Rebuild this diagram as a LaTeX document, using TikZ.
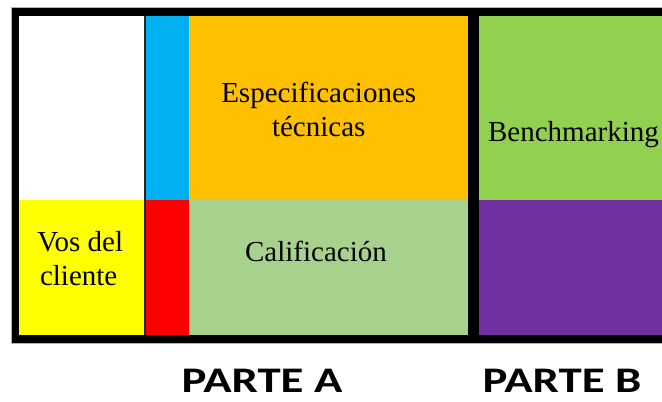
\documentclass[tikz,border=0pt]{standalone}
\usepackage{fontspec}
\setmainfont{Liberation Serif}
\newfontfamily\partfont{Carlito}
\definecolor{cblue}{HTML}{00B0F0}
\definecolor{corange}{HTML}{FFC000}
\definecolor{cgreen}{HTML}{92D050}
\definecolor{cyellow}{HTML}{FFFF00}
\definecolor{cred}{HTML}{FF0000}
\definecolor{clgreen}{HTML}{A9D18E}
\definecolor{cpurple}{HTML}{7030A0}
\begin{document}
\begin{tikzpicture}[x=1pt,y=-1pt,
  txt/.style={font=\fontsize{29}{34}\selectfont, inner sep=0pt, anchor=base},
  part/.style={font=\partfont\bfseries\fontsize{36}{40}\selectfont, inner sep=0pt, anchor=base}]
\useasboundingbox (0,0) rectangle (662,402);
\clip (0,0) rectangle (662,402);
\fill[white] (0,0) rectangle (662,402);
% frame
\draw[fill=black, draw=gray!60, line width=0.8pt] (11.7,7.3) rectangle (680,343);
% cells
\fill[white]   (19,15.7)    rectangle (145,200);
\fill[cblue]   (145,15.7)   rectangle (189.3,200);
\fill[corange] (189.3,15.7) rectangle (468,200);
\fill[cgreen]  (479,15.7)   rectangle (670,200);
\fill[cyellow] (19,200)     rectangle (145,335);
\fill[cred]    (145,200)    rectangle (189.3,335);
\fill[clgreen] (189.3,200)  rectangle (468,335);
\fill[cpurple] (479,200)    rectangle (670,335);
\draw[line width=1.5pt, black!85] (145,15.7) -- (145,335);
% texts
\node[txt] (esp1) at (318.7,102.3) {Especificaciones};
\node[txt] (esp2) at (318.7,136.7) {técnicas};
\node[txt] (bench) at (573.5,141.7) {Benchmarking};
\node[txt] (vos1) at (80.3,251.7) {Vos del};
\node[txt] (vos2) at (78.7,285) {cliente};
\node[txt] (cal) at (316,261.7) {Calificación};
\node[part] (pa) at (262,392.3) {\scalebox{1.3}[1]{PARTE A}};
\node[part] (pb) at (562,392.3) {\scalebox{1.3}[1]{PARTE B}};
\end{tikzpicture}
\end{document}
